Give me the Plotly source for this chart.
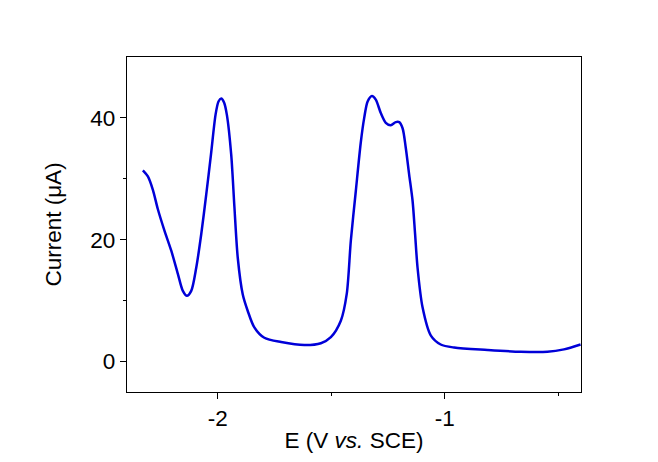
import plotly.graph_objects as go

E = [-2.330, -2.308, -2.286, -2.264, -2.235, -2.205, -2.176, -2.154, -2.136, -2.117,
     -2.095, -2.073, -2.051, -2.030, -2.010, -1.997, -1.985, -1.972, -1.960, -1.941,
     -1.927, -1.912, -1.890, -1.868, -1.839, -1.795, -1.721, -1.619, -1.546, -1.502,
     -1.458, -1.432, -1.414, -1.392, -1.370, -1.355, -1.340, -1.321, -1.304, -1.282,
     -1.260, -1.238, -1.216, -1.201, -1.186, -1.172, -1.157, -1.142, -1.131, -1.120,
     -1.098, -1.062, -1.018, -0.959, -0.812, -0.666, -0.548, -0.475, -0.402]
current = [31.4, 30.4, 28.2, 25.0, 21.5, 18.2, 14.4, 11.6, 10.8, 11.6,
           15.4, 20.9, 27.4, 34.0, 40.5, 42.7, 43.2, 42.5, 40.5, 34.0,
           25.5, 17.0, 11.0, 8.3, 5.6, 3.9, 3.2, 2.7, 3.0, 4.0,
           6.7, 11.1, 19.8, 28.0, 36.0, 40.0, 42.7, 43.6, 43.0, 40.8,
           39.2, 38.8, 39.3, 39.3, 38.3, 35.1, 30.7, 26.4, 21.0, 15.4,
           8.9, 4.3, 2.8, 2.3, 1.9, 1.6, 1.6, 2.0, 2.8]

x_ticks = [-2, -1]
y_ticks = [0, 20, 40]

fig = go.Figure()
fig.add_trace(go.Scatter(x=E, y=current, mode="lines",
                         line=dict(color="#0000D8", width=2.5, shape="spline", smoothing=0.8),
                         showlegend=False))

fs = 22.5
font = dict(family="Liberation Sans, Arial, sans-serif", size=fs, color="black")
fig.update_layout(
    width=658, height=462,
    margin=dict(l=119, r=85, t=49, b=78),
    paper_bgcolor="white", plot_bgcolor="white",
    font=font,
)
fig.update_xaxes(
    range=[-2.4, -0.4], tickvals=x_ticks, ticktext=["-2", "-1"],
    tickfont=dict(size=fs),
    showline=True, linecolor="black", linewidth=1.3, mirror=True,
    ticks="outside", ticklen=6, tickwidth=1.3, tickcolor="black",
    minor=dict(tickvals=[-1.5, -0.5], ticks="outside", ticklen=3, tickwidth=1.3, tickcolor="black"),
    showgrid=False, zeroline=False,
    title=dict(text="E (V <i>vs.</i> SCE)", standoff=2, font=dict(size=fs)),
)
fig.update_yaxes(
    range=[-5, 50], tickvals=y_ticks,
    tickfont=dict(size=fs),
    showline=True, linecolor="black", linewidth=1.3, mirror=True,
    ticks="outside", ticklen=6, tickwidth=1.3, tickcolor="black",
    minor=dict(tickvals=[10, 30], ticks="outside", ticklen=3, tickwidth=1.3, tickcolor="black"),
    showgrid=False, zeroline=False,
    title=dict(text="Current (μA)", standoff=22, font=dict(size=fs)),
)
fig.write_html("out.html")
